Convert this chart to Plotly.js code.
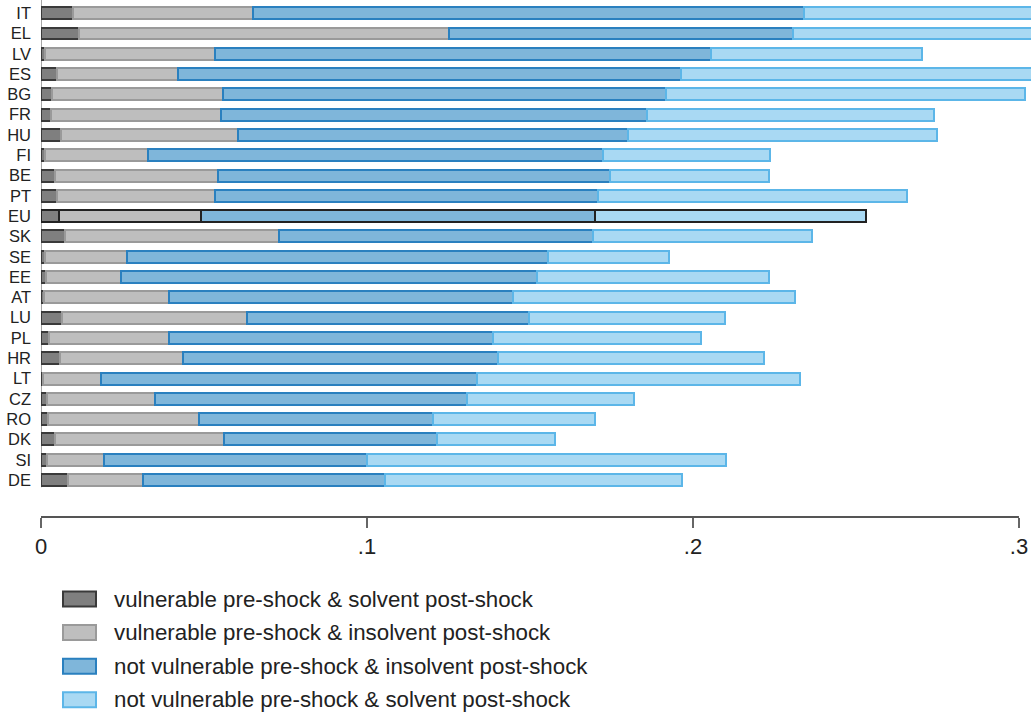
<!DOCTYPE html>
<html>
<head>
<meta charset="utf-8">
<script src="https://cdn.plot.ly/plotly-3.0.1.min.js"></script>
<style>html,body{margin:0;padding:0;background:#fff;}#chart{width:1031px;height:717px;}</style>
</head>
<body>
<div id="chart"></div>
<script>
// Categories (top to bottom)
const countries = ['IT','EL','LV','ES','BG','FR','HU','FI','BE','PT','EU','SK','SE','EE','AT','LU','PL','HR','LT','CZ','RO','DK','SI','DE'];

// Series values (shares)
const vulnSolvent = [0.0097,0.0116,0.0012,0.0050,0.0034,0.0030,0.0060,0.0013,0.0043,0.0050,0.0055,0.0074,0.0011,0.0014,0.0008,0.0064,0.0024,0.0058,0.0007,0.0018,0.0021,0.0043,0.0019,0.0082];
const vulnInsolvent = [0.0553,0.1136,0.0521,0.0369,0.0524,0.0521,0.0543,0.0315,0.0500,0.0484,0.0437,0.0656,0.0253,0.0230,0.0385,0.0568,0.0370,0.0377,0.0176,0.0333,0.0463,0.0518,0.0175,0.0230];
const notVulnInsolvent = [0.1690,0.1054,0.1522,0.1543,0.1358,0.1309,0.1197,0.1395,0.1203,0.1175,0.1207,0.0962,0.1291,0.1279,0.1056,0.0865,0.0993,0.0968,0.1155,0.0957,0.0717,0.0653,0.0806,0.0742];
const notVulnSolvent = [0.0760,0.0894,0.0649,0.1138,0.1103,0.0879,0.0950,0.0512,0.0487,0.0949,0.0831,0.0674,0.0373,0.0709,0.0863,0.0602,0.0637,0.0814,0.0989,0.0510,0.0497,0.0363,0.1102,0.0913];

// Series names
const seriesNames = [
  'vulnerable pre-shock & solvent post-shock',
  'vulnerable pre-shock & insolvent post-shock',
  'not vulnerable pre-shock & insolvent post-shock',
  'not vulnerable pre-shock & solvent post-shock'
];

// Tick labels
const tickVals = [0, 0.1, 0.2, 0.3];
const tickText = ['0', '.1', '.2', '.3'];

const seriesValues = [vulnSolvent, vulnInsolvent, notVulnInsolvent, notVulnSolvent];
const fills = ['#7f7f7f', '#bebebe', '#7fb6da', '#a9d9f3'];
const borders = ['#3a3a3a', '#9a9a9a', '#2a80bf', '#5cb6e8'];
const highlight = 'EU';
const highlightBorder = '#222222';

const traces = seriesValues.map((vals, i) => ({
  type: 'bar',
  orientation: 'h',
  name: seriesNames[i],
  x: vals,
  y: countries,
  marker: {
    color: fills[i],
    line: {
      color: countries.map(c => c === highlight ? highlightBorder : borders[i]),
      width: 2
    }
  },
  showlegend: false,
  hoverinfo: 'x+y+name'
}));

// geometry helpers for the custom legend (paper coords)
const W = 1031, H = 717, ML = 41, MR = 0, MT = 0, MB = 200;
const pw = W - ML - MR, ph = H - MT - MB;
const px2x = p => (p - ML) / pw;
const py2y = p => (H - MB - p) / ph;

const shapes = [
  {type: 'line', xref: 'x', yref: 'paper', x0: 0, x1: 0.3, y0: 0, y1: 0,
   line: {color: '#555555', width: 2}},
  {type: 'line', xref: 'x', yref: 'y', x0: 0, x1: 0, y0: -0.65, y1: 23.35,
   line: {color: '#888888', width: 1.5}, layer: 'below'}
];
const annotations = [];
seriesNames.forEach((nm, i) => {
  const cy = 599 + i * 33.6;
  shapes.push({
    type: 'rect', xref: 'paper', yref: 'paper',
    x0: px2x(63), x1: px2x(96), y0: py2y(cy - 7.5), y1: py2y(cy + 7.5),
    fillcolor: fills[i], line: {color: borders[i], width: 2}
  });
  annotations.push({
    xref: 'paper', yref: 'paper', x: px2x(112), y: py2y(cy),
    xanchor: 'left', yanchor: 'middle', showarrow: false, text: nm,
    font: {family: 'Liberation Sans, Arial, sans-serif', size: 22.3, color: '#222222'}
  });
});

const layout = {
  width: W, height: H,
  margin: {l: ML, r: MR, t: MT, b: MB, pad: 0},
  paper_bgcolor: '#ffffff', plot_bgcolor: '#ffffff',
  barmode: 'stack', bargap: 0.41,
  showlegend: false,
  font: {family: 'Liberation Sans, Arial, sans-serif', color: '#222222'},
  xaxis: {
    range: [0, 0.3037], showgrid: false, zeroline: false, showline: false,
    ticks: 'outside', ticklen: 10, tickwidth: 1.2, tickcolor: '#666666',
    tickvals: tickVals, ticktext: tickText,
    tickfont: {size: 22, color: '#222222'}, fixedrange: true
  },
  yaxis: {
    type: 'category', categoryorder: 'array', categoryarray: countries,
    range: [24.82, -0.65], showgrid: false, zeroline: false, showline: false,
    ticks: '', ticklabelstandoff: 9,
    tickfont: {size: 16.5, color: '#222222'}, fixedrange: true
  },
  shapes: shapes,
  annotations: annotations
};

Plotly.newPlot('chart', traces, layout, {displayModeBar: false, staticPlot: true});
</script>
</body>
</html>
